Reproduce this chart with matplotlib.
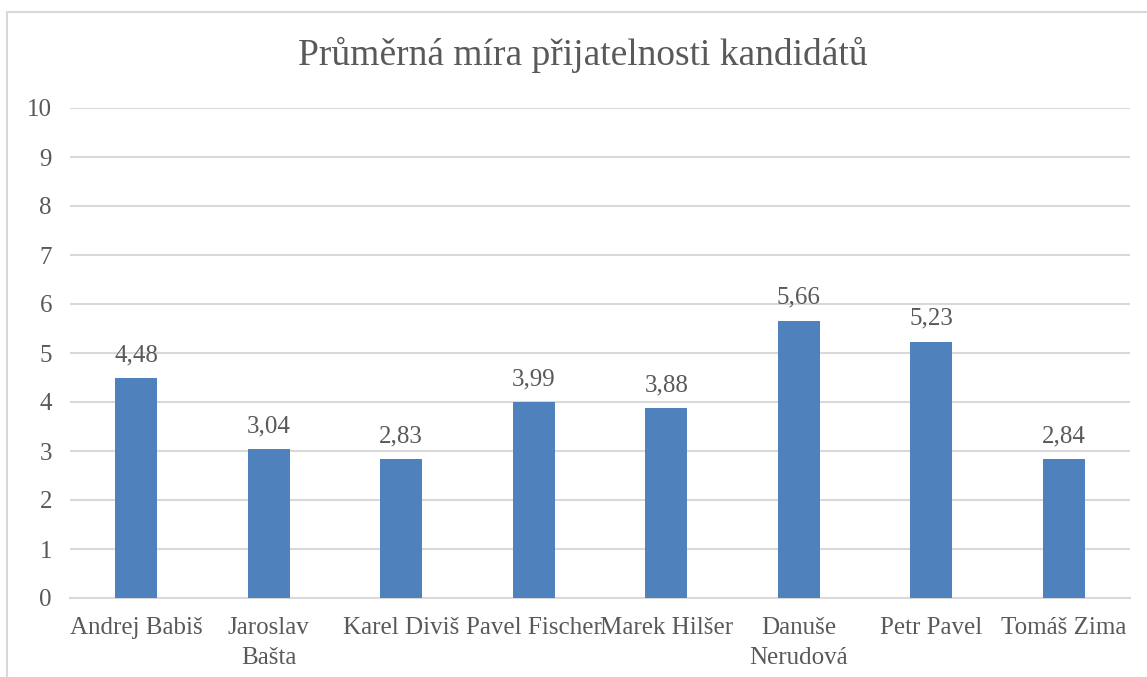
import matplotlib.pyplot as plt
from matplotlib.patches import Rectangle

kandidati = ['Andrej Babiš', 'Jaroslav\nBašta', 'Karel Diviš', 'Pavel Fischer',
             'Marek Hilšer', 'Danuše\nNerudová', 'Petr Pavel', 'Tomáš Zima']
prumer = [4.48, 3.04, 2.83, 3.99, 3.88, 5.66, 5.23, 2.84]
popisky = ['4,48', '3,04', '2,83', '3,99', '3,88', '5,66', '5,23', '2,84']
osa_y = ['0', '1', '2', '3', '4', '5', '6', '7', '8', '9', '10']
titulek = 'Průměrná míra přijatelnosti kandidátů'

pismo = ['Liberation Serif', 'DejaVu Serif']
seda = '#595959'

fig = plt.figure(figsize=(11.47, 6.77), dpi=100)
ax = fig.add_axes([70 / 1147, 1 - 598 / 677, 1060 / 1147, 490 / 677])

# ramecek grafu (Excel)
fig.patches.append(Rectangle((7 / 1147, -0.1), 1.2, 0.1 + 1 - 12 / 677,
                             transform=fig.transFigure, fill=False,
                             edgecolor='#D9D9D9', linewidth=1.5))

x = list(range(len(kandidati)))
ax.bar(x, prumer, width=0.32, color='#4F81BD', zorder=3)
for i in x:
    ax.annotate(popisky[i], (i, prumer[i]), xytext=(0, 8.5), textcoords='offset points',
                ha='center', va='bottom', fontsize=18, color=seda, family=pismo)

ax.set_xlim(-0.5, len(kandidati) - 0.5)
ax.set_ylim(0, 10)
ax.set_yticks(range(0, 11))
ax.set_yticklabels(osa_y, fontsize=18, color=seda, family=pismo)
ax.set_xticks(x)
ax.set_xticklabels(kandidati, fontsize=18, color=seda, linespacing=1.45, family=pismo)
ax.tick_params(axis='y', length=0, pad=13)
ax.tick_params(axis='x', length=0, pad=14)
ax.grid(axis='y', color='#D9D9D9', linewidth=1.5, zorder=0)
for s in ax.spines.values():
    s.set_visible(False)
ax.spines['bottom'].set_visible(True)
ax.spines['bottom'].set_color('#D9D9D9')
ax.spines['bottom'].set_linewidth(1.5)

fig.text(583 / 1147, 1 - 55 / 677, titulek, ha='center', va='center',
         fontsize=27, color=seda, family=pismo)

fig.savefig('out.png', dpi=100)
